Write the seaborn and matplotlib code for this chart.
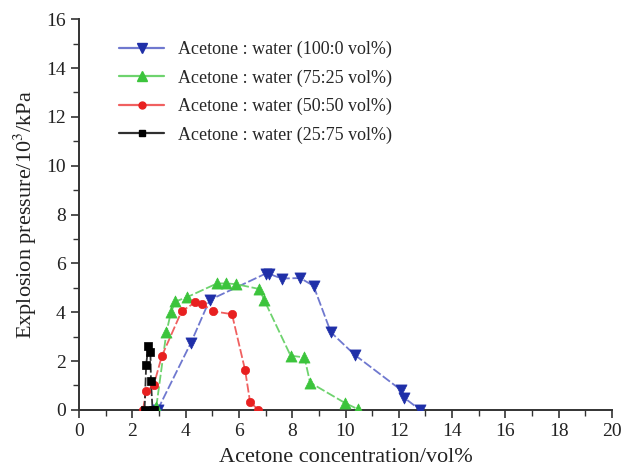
import matplotlib
matplotlib.use("Agg")
import matplotlib.pyplot as plt
from matplotlib.ticker import MultipleLocator
from matplotlib.lines import Line2D
import seaborn as sns
import pandas as pd

# Explosion pressure (10^3 kPa) vs. acetone concentration (vol%)
x_100_0 = [2.95, 4.2, 4.9, 7.0, 7.12, 7.6, 8.3, 8.8, 9.45, 10.35, 12.1, 12.2, 12.8]
y_100_0 = [0.0, 2.75, 4.5, 5.58, 5.58, 5.38, 5.4, 5.08, 3.18, 2.25, 0.8, 0.5, 0.0]

x_75_25 = [2.9, 3.28, 3.45, 3.62, 4.06, 5.18, 5.53, 5.9, 6.77, 6.94, 7.94, 8.46, 8.67, 9.97, 10.48]
y_75_25 = [0.12, 3.18, 4.0, 4.44, 4.62, 5.18, 5.18, 5.15, 4.95, 4.52, 2.22, 2.15, 1.12, 0.29, 0.02]

x_50_50 = [2.4, 2.52, 2.8, 3.11, 3.85, 4.37, 4.6, 5.03, 5.74, 6.23, 6.42, 6.73]
y_50_50 = [0.0, 0.77, 1.0, 2.21, 4.04, 4.41, 4.35, 4.04, 3.92, 1.64, 0.32, 0.0]

x_25_75 = [2.46, 2.52, 2.6, 2.68, 2.7, 2.76, 2.83]
y_25_75 = [0.0, 1.84, 2.62, 2.38, 1.18, 0.0, 0.0]

labels = [
    "Acetone : water (100:0 vol%)",
    "Acetone : water (75:25 vol%)",
    "Acetone : water (50:50 vol%)",
    "Acetone : water (25:75 vol%)",
]

series = [
    (x_100_0, y_100_0, "#6f78cf", "#1f2fa8", "v", 8),
    (x_75_25, y_75_25, "#6ed36e", "#3cc43c", "^", 8),
    (x_50_50, y_50_50, "#f06060", "#e82020", "o", 6),
    (x_25_75, y_25_75, "#303030", "#000000", "s", 6),
]

sns.set_style("ticks")
plt.rcParams["font.family"] = ["Liberation Serif", "DejaVu Serif"]
plt.rcParams["mathtext.fontset"] = "stix"

fig = plt.figure(figsize=(6.22, 4.69), dpi=100)
ax = fig.add_axes([0.127, 0.126, 0.857, 0.833])

handles = []
for (xs, ys, lc, mc, mk, ms), lab in zip(series, labels):
    df = pd.DataFrame({"conc": xs, "pressure": ys})
    sns.lineplot(data=df, x="conc", y="pressure", sort=False, ax=ax,
                 color=lc, linewidth=1.3, dashes=False, estimator=None)
    ax.lines[-1].set_dashes([5, 1.5])
    sns.scatterplot(data=df, x="conc", y="pressure", ax=ax, marker=mk,
                    s=ms ** 2, color=mc, edgecolor=mc, linewidth=0.5, zorder=3)
    handles.append(Line2D([0], [0], color=lc, lw=1.6, marker=mk, markersize=ms - 1,
                          markerfacecolor=mc, markeredgecolor=mc))

ax.set_xlim(0, 20)
ax.set_ylim(0, 16)
ax.xaxis.set_major_locator(MultipleLocator(2))
ax.xaxis.set_minor_locator(MultipleLocator(1))
ax.yaxis.set_major_locator(MultipleLocator(2))
ax.yaxis.set_minor_locator(MultipleLocator(1))
ax.tick_params(which="major", direction="out", length=6, width=1.2, colors="#333333",
               labelsize=14, labelcolor="#222222")
ax.tick_params(which="minor", direction="out", length=4, width=1.0, colors="#333333")

for side in ["top", "right"]:
    ax.spines[side].set_visible(False)
for side in ["left", "bottom"]:
    ax.spines[side].set_color("#333333")
    ax.spines[side].set_linewidth(1.4)

ax.set_xlabel("Acetone concentration/vol%", fontsize=16, color="#222222", labelpad=6)
ax.set_ylabel(r"Explosion pressure/10$^{3}$/kPa", fontsize=16, color="#222222", labelpad=5)

ax.legend(handles, labels, loc="upper left", bbox_to_anchor=(0.058, 0.968),
          frameon=False, fontsize=13, handlelength=2.5, handletextpad=0.75,
          labelspacing=0.62, borderpad=0)

fig.savefig("out.png", dpi=100)
